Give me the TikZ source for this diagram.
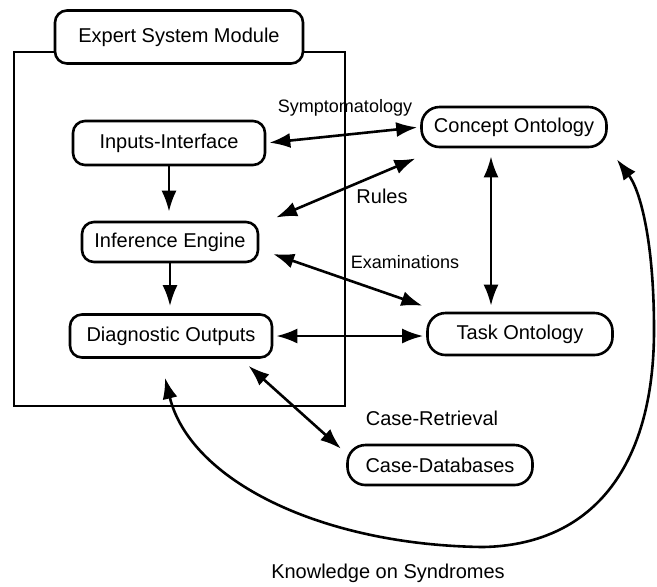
\documentclass[tikz,border=0pt]{standalone}
\usepackage{fontspec}
\setmainfont{Liberation Sans}
\usetikzlibrary{arrows.meta}
\tikzset{
      module/.style={draw=black, line width=1.3pt, rounded corners=6pt, fill=white,
            font=\fontsize{10}{12}\selectfont, inner sep=0pt},
      onto/.style={module, rounded corners=9pt},
      link/.style={draw=black, line width=1.3pt, <->, shorten <=1.5pt, shorten >=1.5pt},
      flow/.style={draw=black, line width=1.3pt, ->},
      tag/.style={font=\fontsize{9}{11}\selectfont, inner sep=0pt},
      biglabel/.style={font=\fontsize{10}{12}\selectfont, inner sep=0pt},
}

\begin{document}
\begin{tikzpicture}[x=0.5pt, y=-0.5pt, >={Latex[length=10.5pt,width=7.5pt]}]
        \useasboundingbox (0,0) rectangle (657,586);

        % Draw the module frame
        \draw[line width=1.3pt] (14,52) rectangle (345,406);
        \node[module, minimum width=124pt, minimum height=26.5pt] (expert) at (179,37) {Expert System Module};

        % Draw the boxes
        \node[module, minimum width=96pt, minimum height=22pt] (inputs) at (169,143) {Inputs-Interface};
        \node[module, minimum width=88pt, minimum height=20pt] (infer) at (170,242) {Inference Engine};
        \node[module, minimum width=101pt, minimum height=21.5pt] (diag) at (171,336) {Diagnostic Outputs};
        \node[onto, minimum width=92.5pt, minimum height=20pt] (concept) at (514,127) {Concept Ontology};
        \node[onto, minimum width=92.5pt, minimum height=21pt] (task) at (520,334) {Task Ontology};
        \node[onto, minimum width=92.5pt, minimum height=20pt] (casedb) at (440,465) {Case-Databases};

        % Draw the labels
        \node[tag] (symlab) at (345,108) {Symptomatology};
        \node[biglabel] (rulelab) at (382,196) {Rules};
        \node[tag] (examlab) at (405,262) {Examinations};
        \node[biglabel] (caselab) at (432,418) {Case-Retrieval};
        \node[biglabel] (knowlab) at (388,573) {Knowledge on Syndromes};

        % Draw the links
        \draw[flow, shorten >=4.5pt] (inputs.south) -- (inputs.south |- infer.north);
        \draw[flow, shorten >=3.5pt] (infer.south) -- (infer.south |- diag.north);
        \draw[link] (inputs.east) -- (concept.west);
        \draw[link] ([shift={(14,-2)}]infer.north east) -- ([shift={(-2,9)}]concept.south west);
        \draw[link] ([shift={(11,11)}]infer.east) -- ([shift={(-1,-5)}]task.north west);
        \draw[link] ([shift={(-23,5)}]concept.south) -- ([shift={(-29,-3)}]task.north);
        \draw[link] (diag.east) -- (diag.east -| task.west);
        \draw[link] ([shift={(-27,5)}]diag.south east) -- ([shift={(-3,7)}]casedb.north west);
        \draw[draw=black, line width=1.3pt, <->]
              ([shift={(-6,19)}]diag.south) .. controls (190,480) and (320,545) .. (483,547)
              .. controls (590,545) and (654,470) .. (654,330)
              .. controls (654,240) and (640,190) .. ([shift={(9,11)}]concept.south east);

    \end{tikzpicture}
\end{document}
